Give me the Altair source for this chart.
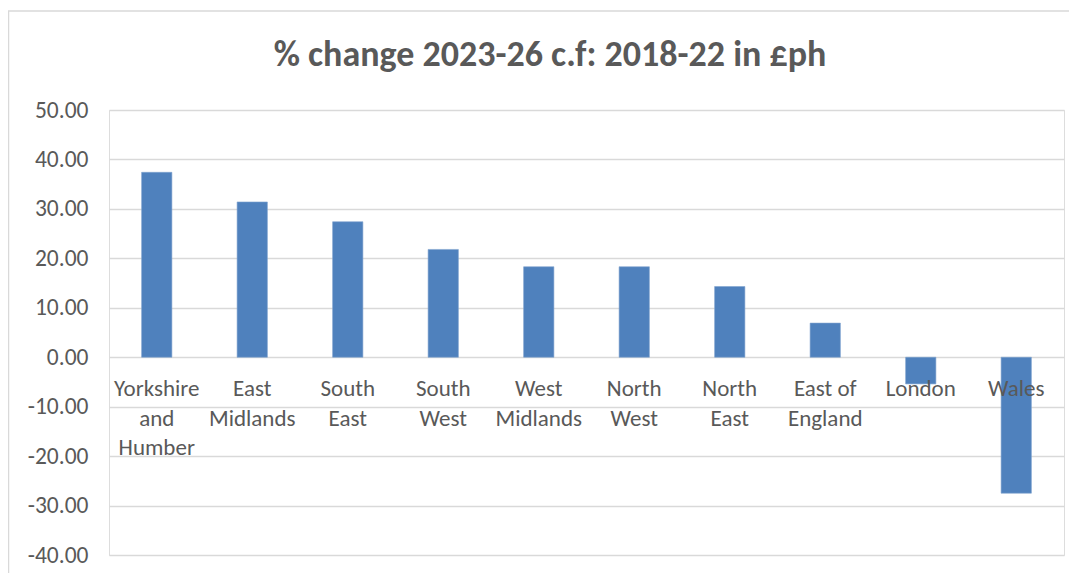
import altair as alt
import pandas as pd

regions = ["Yorkshire and Humber", "East Midlands", "South East", "South West",
           "West Midlands", "North West", "North East", "East of England",
           "London", "Wales"]
label_lines = ["Yorkshire\nand\nHumber", "East\nMidlands", "South\nEast", "South\nWest",
               "West\nMidlands", "North\nWest", "North\nEast", "East of\nEngland",
               "London", "Wales"]
values = [37.4, 31.4, 27.4, 21.8, 18.3, 18.3, 14.3, 6.9, -5.4, -27.5]
y_ticks = [-40, -30, -20, -10, 0, 10, 20, 30, 40, 50]
title_text = "% change 2023-26 c.f: 2018-22 in £ph"

df = pd.DataFrame({"region": regions, "label": label_lines, "value": values})

FONT = "Calibri, Carlito, Lato, sans-serif"
GREY = "#595959"

x_enc = alt.X("region:N", sort=regions, axis=None,
              scale=alt.Scale(paddingInner=0.683, paddingOuter=0.3415))
y_scale = alt.Scale(domain=[-40, 50], nice=False, zero=False)

bars = alt.Chart(df).mark_bar(color="#4F81BD", stroke="#7FA2CF", strokeWidth=0.6).encode(
    x=x_enc,
    y=alt.Y("value:Q", scale=y_scale,
            axis=alt.Axis(values=y_ticks, title=None, domain=False, ticks=False,
                          labelExpr="replace(format(datum.value, '.2f'), '\u2212', '-')",
                          labelFontSize=23.5, labelFont=FONT, labelColor=GREY, labelPadding=21,
                          grid=True, gridColor="#D9D9D9", gridWidth=1.5)),
)

labels = alt.Chart(df).mark_text(
    baseline="top", align="center", dy=21, lineBreak="\n", lineHeight=29.3,
    fontSize=23, font=FONT, color=GREY,
).encode(
    x=x_enc,
    y=alt.datum(0, scale=y_scale),
    text="label:N",
)

title = alt.Chart(pd.DataFrame({"t": [title_text]})).mark_text(
    align="center", baseline="alphabetic", fontSize=36, fontWeight="bold",
    font=FONT, color=GREY,
).encode(
    x=alt.value(441), y=alt.value(-44), text="t:N"
)

border = alt.Chart(pd.DataFrame({"k": [0]})).mark_rect(
    fillOpacity=0, stroke="#D9D9D9", strokeWidth=1.5
).encode(
    x=alt.value(-100.5), y=alt.value(-99), x2=alt.value(2000), y2=alt.value(2000)
)

chart = alt.layer(border, bars, labels, title).properties(
    width=955, height=445,
    autosize=alt.AutoSizeParams(type="none"),
    padding={"left": 101, "top": 102, "right": 5, "bottom": 18},
).configure_view(stroke=None).configure(background="white")

chart.save("out.html", embed_options={"renderer": "svg", "actions": False})
